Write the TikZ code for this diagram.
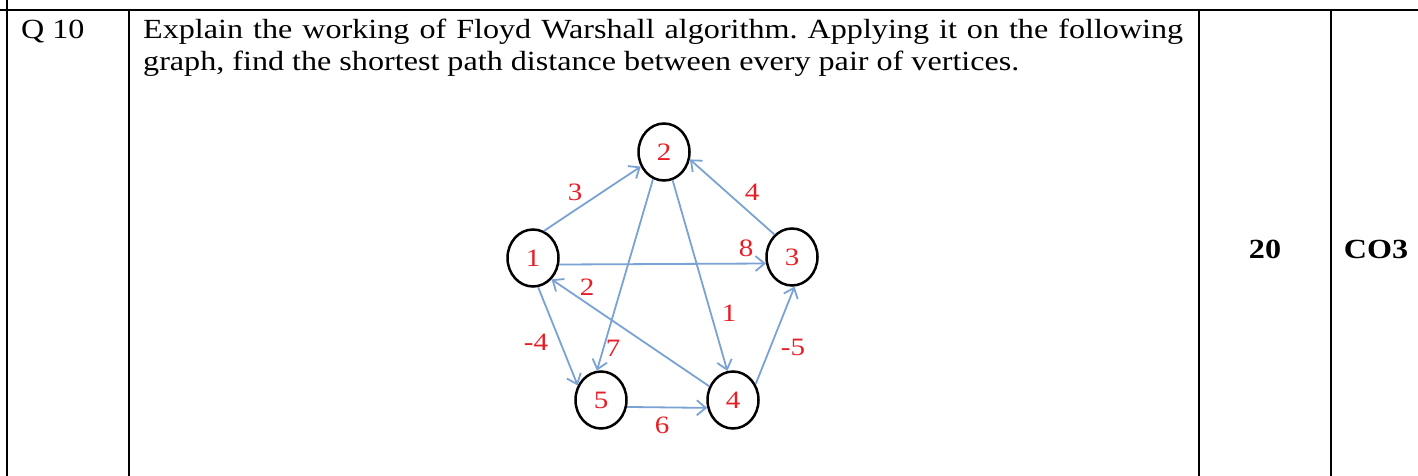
\documentclass[tikz,border=0pt]{standalone}
\usepackage{fontspec}
\setmainfont{Liberation Serif}[FakeStretch=1.16]
\usetikzlibrary{arrows.meta,positioning,shapes.geometric}
\definecolor{edgeblue}{RGB}{122,162,212}
\definecolor{numred}{RGB}{232,30,38}
\tikzset{
  vtx/.style={ellipse,draw,line width=2.5pt,minimum width=51pt,minimum height=57pt,inner sep=0pt,text=numred,font=\fontsize{25}{25}\selectfont},
  arc/.style={draw=edgeblue,line width=1.8pt,-{Straight Barb[length=9pt,width=15pt]}},
  wt/.style={text=numred,inner sep=0pt,font=\fontsize{25}{25}\selectfont},
  cell/.style={inner sep=0pt,font=\fontsize{27.7}{32}\selectfont}
}
\begin{document}
\frenchspacing
\begin{tikzpicture}[x=1pt,y=-1pt]
\useasboundingbox (0,0) rectangle (1418,476);
% table rules
\draw[line width=2.7pt] (0,10) -- (1418,10);
\draw[line width=1.3pt] (7,0) -- (7,476);
\foreach \x in {129,1199,1331}{\draw[line width=1.3pt] (\x,10) -- (\x,476);}
\node[cell,anchor=base west] (qno) at (21,39) {Q 10};
\node[cell,anchor=base west,text width=1040pt,align=justify] (qtext) at (143,39) {Explain the working of Floyd Warshall algorithm. Applying it on the following graph, find the shortest path distance between every pair of vertices.};
\node[cell,anchor=base,font=\fontsize{27.7}{32}\selectfont\bfseries] (marks) at (1265,258) {20};
\node[cell,anchor=base,font=\fontsize{27.7}{32}\selectfont\bfseries] (co) at (1376,258) {CO3};
% graph
\foreach \n/\x/\y in {1/533/258,2/664/152,3/792/257,4/733/400,5/601/400}{\node[vtx] (v\n) at (\x,\y) {\n};}
\foreach \a/\p/\b/\q in {1/68/2/212,3/128/2/344,1/346/3/194,2/248/5/98,2/287/4/101,4/150/1/311,1/280/5/148,5/345/4/197,4/35/3/275}{
 \draw[arc] (v\a.\p) -- (v\b.\q);}
\foreach \w/\x/\y [count=\k] in {3/575/192,4/752/192,8/746/248,7/613/348,1/729/313,2/587/287,-4/536/342,6/662/425,-5/793/347}{
 \node[wt] (w\k) at (\x,\y) {\w};}
\end{tikzpicture}
\end{document}
